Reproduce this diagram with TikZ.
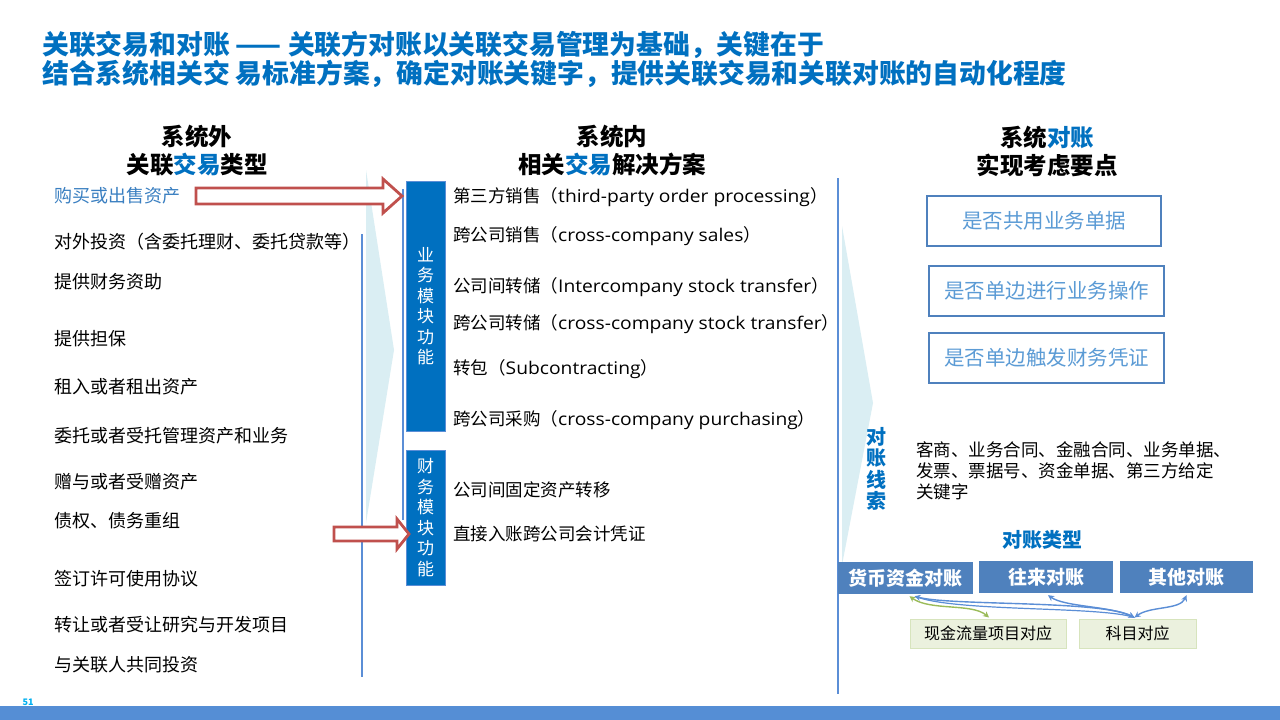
\documentclass[tikz,border=0pt]{standalone}
\usepackage{fontspec}
\setmainfont{Noto Sans CJK SC}
\newfontfamily\latinf{Open Sans}[FakeStretch=1.1]
\usetikzlibrary{arrows.meta}
\definecolor{tblue}{HTML}{0070C0}
\definecolor{lblue}{HTML}{5B8ED6}
\definecolor{fblue}{HTML}{4F81BD}
\definecolor{txblue}{HTML}{5B9BD5}
\definecolor{ablue}{HTML}{3A7FC1}
\definecolor{lcyan}{HTML}{DAEEF3}
\definecolor{rred}{HTML}{C0504D}
\definecolor{gfill}{HTML}{EBF1DE}
\definecolor{gline}{HTML}{D7E4BD}
\definecolor{garrow}{HTML}{9BBB59}
\definecolor{barblue}{HTML}{558ED5}
\definecolor{pcyan}{HTML}{00B0F0}
\begin{document}
\begin{tikzpicture}[x=1pt,y=-1pt,
  titletxt/.style={anchor=west,inner sep=0,text=tblue,font=\fontsize{26.8}{30}\selectfont\bfseries},
  hdr/.style={align=center,inner sep=0,font=\fontsize{23.5}{28}\selectfont\bfseries},
  leftitem/.style={anchor=west,inner sep=0,font=\fontsize{18}{21}\selectfont},
  miditem/.style={anchor=west,inner sep=0,font=\fontsize{17.5}{21}\selectfont},
  vlane/.style={draw=lblue,line width=2.6pt},
  modbox/.style={fill=tblue,draw=lblue,line width=0.8pt,text=white,align=center,inner sep=0,font=\fontsize{17}{20.5}\selectfont},
  checkbox/.style={draw=fblue,line width=2.6pt,text=txblue,inner sep=0,font=\fontsize{20.5}{24}\selectfont},
  typebox/.style={fill=fblue,text=white,inner sep=0,font=\fontsize{19}{23}\selectfont\bfseries},
  mapbox/.style={fill=gfill,draw=gline,line width=1pt,inner sep=0,font=\fontsize{16}{20}\selectfont},
  blockarrow/.style={draw=rred,line width=2.8pt,fill=white,line join=miter},
  dbl/.style={{Stealth[length=6pt,width=6pt]}-{Stealth[length=6pt,width=6pt]},line width=1.4pt}
]
\useasboundingbox (0,0) rectangle (1280,720);
\fill[white] (0,0) rectangle (1280,720);

% title
\node[titletxt] (t1) at (42,45) {关联交易和对账 —— 关联方对账以关联交易管理为基础，关键在于};
\node[titletxt] (t2) at (42,74) {结合系统相关交 易标准方案，确定对账关键字，提供关联交易和关联对账的自动化程度};

% headers
\node[hdr] (h1) at (197,151) {系统外\\关联\textcolor{tblue}{交易}类型};
\node[hdr] (h2) at (612,151) {系统内\\相关\textcolor{tblue}{交易}解决方案};
\node[hdr] (h3) at (1047,151) {系统\textcolor{tblue}{对账}\\实现考虑要点};

% light chevrons
\fill[lcyan] (366,170) -- (394,350) -- (366,523) -- cycle;
\fill[lcyan] (842,226) -- (873,403) -- (842,565) -- cycle;

% vertical lines
\draw[vlane] (362,234) -- (362,677);
\draw[vlane] (403,189) -- (403,520);
\draw[vlane] (838,178) -- (838,694);

% left items
\node[leftitem,text=ablue] (l1) at (54,196) {购买或出售资产};
\node[leftitem] (l2) at (54,242) {对外投资（含委托理财、委托贷款等）};
\node[leftitem] (l3) at (54,282) {提供财务资助};
\node[leftitem] (l4) at (54,339) {提供担保};
\node[leftitem] (l5) at (54,387) {租入或者租出资产};
\node[leftitem] (l6) at (54,436) {委托或者受托管理资产和业务};
\node[leftitem] (l7) at (54,482) {赠与或者受赠资产};
\node[leftitem] (l8) at (54,521) {债权、债务重组};
\node[leftitem] (l9) at (54,579) {签订许可使用协议};
\node[leftitem] (l10) at (54,625) {转让或者受让研究与开发项目};
\node[leftitem] (l11) at (54,665) {与关联人共同投资};

% module boxes
\node[modbox,minimum width=39pt,minimum height=250pt] (m1) at (425.5,306) {业\\务\\模\\块\\功\\能};
\node[modbox,minimum width=39pt,minimum height=135pt] (m2) at (425.5,517.5) {财\\务\\模\\块\\功\\能};

% red block arrows
\draw[blockarrow] (196,188) -- (383,188) -- (383,179) -- (402,196) -- (383,213) -- (383,204) -- (196,204) -- cycle;
\draw[blockarrow] (334,527) -- (397,527) -- (397,519) -- (409,534) -- (397,549) -- (397,541) -- (334,541) -- cycle;

% middle items
\node[miditem] (s1) at (453,197) {第三方销售（{\latinf third-party order processing}）};
\node[miditem] (s2) at (453,236) {跨公司销售（{\latinf cross-company sales}）};
\node[miditem] (s3) at (453,287) {公司间转储（{\latinf Intercompany stock transfer}）};
\node[miditem] (s4) at (453,324) {跨公司转储（{\latinf cross-company stock transfer}）};
\node[miditem] (s5) at (453,369) {转包（{\latinf Subcontracting}）};
\node[miditem] (s6) at (453,420) {跨公司采购（{\latinf cross-company purchasing}）};
\node[miditem] (s7) at (453,490) {公司间固定资产转移};
\node[miditem] (s8) at (453,534) {直接入账跨公司会计凭证};

% right check boxes
\node[checkbox,minimum width=234pt,minimum height=50pt] (c1) at (1044,221) {是否共用业务单据};
\node[checkbox,minimum width=235pt,minimum height=50pt] (c2) at (1046.5,291) {是否单边进行业务操作};
\node[checkbox,minimum width=235pt,minimum height=50pt] (c3) at (1046.5,358) {是否单边触发财务凭证};

% clues
\node[align=center,inner sep=0,text=tblue,font=\fontsize{20}{21.5}\selectfont\bfseries] (cl) at (876,469) {对\\账\\线\\索};
\node[anchor=north west,align=left,inner sep=0,font=\fontsize{17.5}{21}\selectfont] (cp) at (916,441) {客商、业务合同、金融合同、业务单据、\\发票、票据号、资金单据、第三方给定\\关键字};

% reconciliation types
\node[inner sep=0,text=tblue,font=\fontsize{20}{24}\selectfont\bfseries] (rt) at (1042,540) {对账类型};
\node[typebox,minimum width=135pt,minimum height=32pt] (b1) at (905.5,578) {货币资金对账};
\node[typebox,minimum width=134pt,minimum height=32pt] (b2) at (1046,577) {往来对账};
\node[typebox,minimum width=133pt,minimum height=32pt] (b3) at (1186.5,577) {其他对账};
\node[mapbox,minimum width=156pt,minimum height=29pt] (g1) at (988,633.5) {现金流量项目对应};
\node[mapbox,minimum width=117pt,minimum height=29pt] (k1) at (1137.5,633.5) {科目对应};

\draw[dbl,draw=garrow] ([xshift=4pt,yshift=-2pt]b1.south) .. controls (930,611) and (972,603) .. ([xshift=1pt,yshift=1pt]g1.north);
\draw[dbl,draw=lblue] ([xshift=9pt,yshift=-2pt]b1.south) .. controls (950,606) and (1100,600) .. ([xshift=-3pt,yshift=1pt]k1.north);
\draw[line width=1.2pt,draw=lblue] ([xshift=12pt,yshift=-3pt]b1.south) .. controls (960,612) and (1100,606) .. ([xshift=-3pt,yshift=1pt]k1.north);
\draw[dbl,draw=lblue] ([xshift=2pt,yshift=-2pt]b2.south) .. controls (1065,607) and (1110,606) .. ([xshift=-3pt,yshift=1pt]k1.north);
\draw[dbl,draw=lblue] ([xshift=0pt,yshift=-2pt]b3.south) .. controls (1180,610) and (1150,606) .. ([xshift=-3pt,yshift=1pt]k1.north);

% bottom bar and page number
\fill[barblue] (0,706) rectangle (1280,720);
\node[inner sep=0,text=pcyan,font=\fontsize{9}{10}\selectfont\bfseries] (pn) at (28,702) {51};
\end{tikzpicture}
\end{document}
